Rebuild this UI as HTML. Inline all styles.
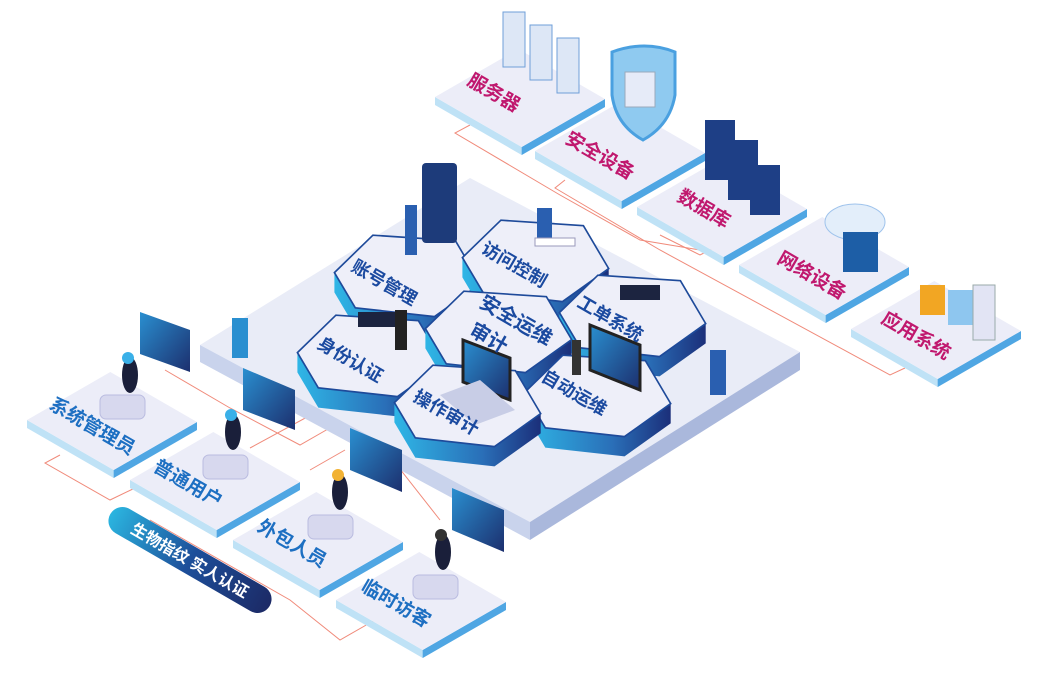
<!DOCTYPE html>
<html><head><meta charset="utf-8"><style>
html,body{margin:0;padding:0;background:#fff;}
svg{display:block;}
text{font-family:"Liberation Sans","Noto Sans CJK SC",sans-serif;font-weight:bold;}
</style></head><body>
<svg width="1056" height="673" viewBox="0 0 1056 673" xmlns="http://www.w3.org/2000/svg">
<defs>
<linearGradient id="hexside" x1="0" y1="0" x2="1" y2="0"><stop offset="0" stop-color="#2fb6e6"/><stop offset="0.6" stop-color="#2a6fb8"/><stop offset="1" stop-color="#1b2f7a"/></linearGradient>
<linearGradient id="pill" x1="0" y1="0" x2="1" y2="0"><stop offset="0" stop-color="#2bb5e0"/><stop offset="0.5" stop-color="#1d4f9a"/><stop offset="1" stop-color="#1c2a66"/></linearGradient>
<linearGradient id="scr" x1="0" y1="0" x2="1" y2="1"><stop offset="0" stop-color="#2a8fd0"/><stop offset="1" stop-color="#1c2f6e"/></linearGradient>
<g id="card">
<polygon points="-85,-1 1.7,49 85,1 85,9 1.7,57 -85,7" fill="#bfe2f6"/>
<polygon points="1.7,49 85,1 85,9 1.7,57" fill="#4fa6e3"/>
<polygon points="-85,-1 -1.7,-49 85,1 1.7,49" fill="#ecedf8"/>
</g>
<g id="hex" transform="scale(1.1)">
<polygon points="-66,-4 -66,14 -47,46 25,54 67,24 67,6 25,36 -47,28" fill="url(#hexside)"/>
<polygon points="-66,-4 -31,-38 44,-33 67,6 25,36 -47,28" fill="#eeeff9" stroke="#1e4a9a" stroke-width="1.5"/>
</g>
</defs>

<g stroke="#f08a7a" stroke-width="1" fill="none">
<polyline points="470,125 455,133 560,195 640,240 700,250"/>
<polyline points="565,180 555,188 660,250 890,375 905,368"/>
<polyline points="660,235 700,255 720,245"/>
<polyline points="60,455 45,463 110,500 135,488"/>
<polyline points="150,520 290,600 340,640 375,620"/>
<polyline points="165,370 230,408 300,445 335,425"/>
<polyline points="250,448 320,410 385,450 440,520"/>
<polyline points="310,470 345,450"/>
</g>

<polygon points="200,345 470,178 800,352 530,522" fill="#e9ecf7"/>
<polygon points="200,345 530,522 530,540 200,362" fill="#c9d3ec"/>
<polygon points="530,522 800,352 800,370 530,540" fill="#aab8dc"/>

<use href="#card" x="520" y="98"/>
<use href="#card" x="620" y="152"/>
<use href="#card" x="722" y="208"/>
<use href="#card" x="824" y="266"/>
<use href="#card" x="936" y="330"/>
<use href="#card" x="112" y="421"/>
<use href="#card" x="215" y="481"/>
<use href="#card" x="318" y="541"/>
<use href="#card" x="421" y="601"/>

<g fill="#d7d8ee" stroke="#babce0">
<rect x="100" y="395" width="45" height="24" rx="6"/>
<rect x="203" y="455" width="45" height="24" rx="6"/>
<rect x="308" y="515" width="45" height="24" rx="6"/>
<rect x="413" y="575" width="45" height="24" rx="6"/>
</g>
<g fill="url(#scr)">
<polygon points="140,312 190,330 190,372 140,354"/>
<polygon points="243,368 295,390 295,430 243,410"/>
<polygon points="350,428 402,450 402,492 350,470"/>
<polygon points="452,488 504,510 504,552 452,530"/>
</g>
<g fill="#1a1f3a">
<ellipse cx="130" cy="375" rx="8" ry="18"/>
<ellipse cx="233" cy="432" rx="8" ry="18"/>
<ellipse cx="340" cy="492" rx="8" ry="18"/>
<ellipse cx="443" cy="552" rx="8" ry="18"/>
</g>
<g fill="#3ab0e8"><circle cx="128" cy="358" r="6"/><circle cx="231" cy="415" r="6"/><circle cx="338" cy="475" r="6" fill="#f2b233"/><circle cx="441" cy="535" r="6" fill="#333"/></g>

<g transform="translate(190,560) rotate(30)">
<rect x="-92" y="-14" width="184" height="28" rx="14" fill="url(#pill)"/>
<text x="0" y="6" font-size="16" fill="#fff" text-anchor="middle">生物指纹 实人认证</text>
</g>

<use href="#hex" x="407" y="277"/>
<use href="#hex" x="535" y="262"/>
<use href="#hex" x="632" y="317"/>
<use href="#hex" x="370" y="357"/>
<use href="#hex" x="498" y="333"/>
<use href="#hex" x="597" y="397"/>
<use href="#hex" x="467" y="407"/>

<g fill="#dde7f6" stroke="#6f9fd8">
<rect x="503" y="12" width="22" height="55"/><rect x="530" y="25" width="22" height="55"/><rect x="557" y="38" width="22" height="55"/>
</g>
<path d="M612,52 Q645,40 675,52 L675,95 Q670,125 643,140 Q616,125 612,95 Z" fill="#8fcaf0" stroke="#4aa0e0" stroke-width="3"/>
<g fill="#e6ebf8" stroke="#9ab"><rect x="625" y="72" width="30" height="35"/></g>
<g fill="#1e3f86"><rect x="705" y="120" width="30" height="60"/><rect x="728" y="140" width="30" height="60"/><rect x="750" y="165" width="30" height="50"/></g>
<ellipse cx="855" cy="222" rx="30" ry="18" fill="#e3eefa" stroke="#9fc3ec"/>
<rect x="843" y="232" width="35" height="40" fill="#1d5ea6"/>
<rect x="920" y="285" width="25" height="30" fill="#f2a623"/><rect x="948" y="290" width="25" height="35" fill="#8ec6ef"/><rect x="973" y="285" width="22" height="55" fill="#e2e4f4" stroke="#9aa"/>

<rect x="422" y="163" width="35" height="80" rx="4" fill="#1d3b7a"/>
<rect x="405" y="205" width="12" height="50" fill="#2a5fb0"/>
<polygon points="590,325 640,345 640,390 590,370" fill="url(#scr)" stroke="#222" stroke-width="3"/>
<polygon points="463,340 510,358 510,400 463,382" fill="url(#scr)" stroke="#222" stroke-width="3"/>
<polygon points="440,395 480,380 515,410 475,425" fill="#c8cde6"/>
<rect x="358" y="312" width="45" height="15" fill="#1c2440"/>
<rect x="395" y="310" width="12" height="40" fill="#222"/>
<rect x="620" y="285" width="40" height="15" fill="#1c2440"/>
<rect x="537" y="208" width="15" height="35" fill="#2a5fb0"/>
<rect x="535" y="238" width="40" height="8" fill="#fff" stroke="#99b"/>
<rect x="710" y="350" width="16" height="45" fill="#2a5fb0"/>
<rect x="232" y="318" width="16" height="40" fill="#2a8fd0"/>
<rect x="572" y="340" width="9" height="35" fill="#333"/>

<g fill="#c0186e" font-size="19">
<text transform="translate(466,84) rotate(30)">服务器</text>
<text transform="translate(564,142) rotate(30)">安全设备</text>
<text transform="translate(676,200) rotate(30)">数据库</text>
<text transform="translate(776,262) rotate(30)">网络设备</text>
<text transform="translate(880,322) rotate(30)">应用系统</text>
</g>
<g fill="#1d6fc2" font-size="19">
<text transform="translate(48,408) rotate(30)">系统管理员</text>
<text transform="translate(152,470) rotate(30)">普通用户</text>
<text transform="translate(256,530) rotate(30)">外包人员</text>
<text transform="translate(360,590) rotate(30)">临时访客</text>
</g>
<g fill="#1b4aa0" font-size="18">
<text transform="translate(350,270) rotate(30)">账号管理</text>
<text transform="translate(480,252) rotate(30)">访问控制</text>
<text transform="translate(316,347) rotate(30)">身份认证</text>
<text transform="translate(478,306) rotate(30)" font-size="20">安全运维</text>
<text transform="translate(468,334) rotate(30)" font-size="20">审计</text>
<text transform="translate(576,306) rotate(30)">工单系统</text>
<text transform="translate(412,400) rotate(30)">操作审计</text>
<text transform="translate(540,380) rotate(30)">自动运维</text>
</g>
</svg>
</body></html>
